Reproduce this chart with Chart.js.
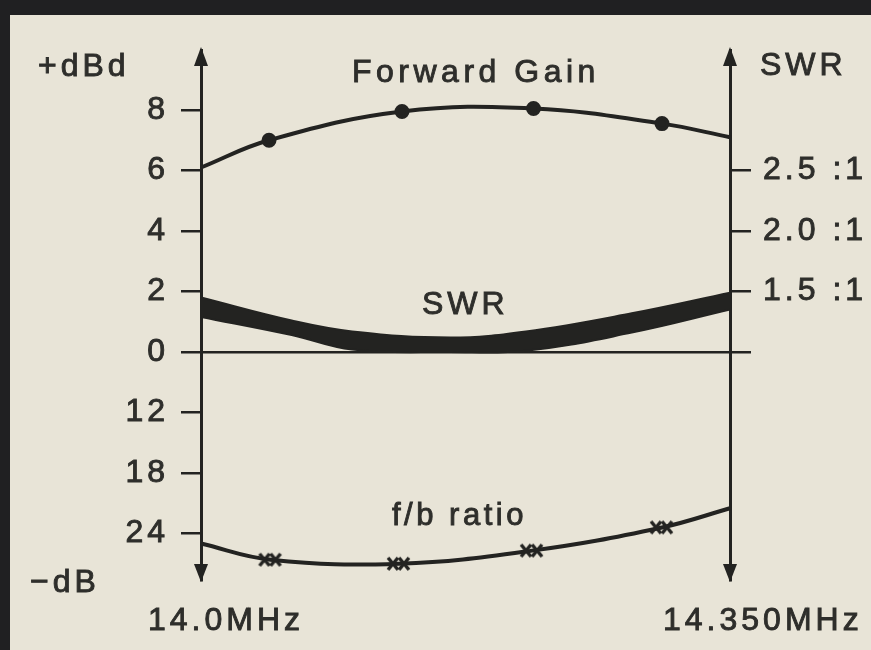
<!DOCTYPE html>
<html>
<head>
<meta charset="utf-8">
<script src="https://cdn.jsdelivr.net/npm/chart.js"></script>
<style>
  body { margin: 0; background: #e8e4d7; }
  canvas { display: block; }
</style>
</head>
<body>
<canvas id="myChart" width="871" height="650"></canvas>
<script>
// frequency (MHz) and readings taken off the original plot
const gainFreq = [14.0, 14.045, 14.133, 14.22, 14.305, 14.35];
const gainDb = [6.1, 7.0, 7.95, 8.05, 7.55, 7.1];

const fbFreq = [14.0, 14.046, 14.131, 14.219, 14.305, 14.35];
const fbDb = [25.0, 26.6, 27.0, 25.7, 23.4, 21.5];

const swrFreq = [14.0, 14.06, 14.1, 14.165, 14.215, 14.285, 14.35];
const swrHigh = [1.45, 1.26, 1.17, 1.12, 1.17, 1.32, 1.49];
const swrLow = [1.29, 1.14, 1.02, 1.0, 1.01, 1.16, 1.35];

// left axis: +dBd going up, f/b dB going down (uneven steps)
const gainTicks = [8, 6, 4, 2, 0];
const fbTicks = [12, 18, 24];
const swrTicks = [1.0, 1.5, 2.0, 2.5];
const swrTickLabels = ["", "1.5 :1", "2.0 :1", "2.5 :1"];

const INK = "#232321";
const TEXT = "#2e2e2b";
const PAPER = "#e8e4d7";
const FONT = "'Liberation Sans', Arial, sans-serif";

// f/b dB -> position on the gain axis (0, 12, 18, 24 are evenly spaced)
function fbToAxis(db) {
  const pts = [0].concat(fbTicks);
  for (let i = 1; i < pts.length; i++) {
    if (db <= pts[i]) {
      const a = pts[i - 1], b = pts[i];
      return -2 * (i - 1) - 2 * (db - a) / (b - a);
    }
  }
  const a = pts[pts.length - 2], b = pts[pts.length - 1];
  return -2 * (pts.length - 1) - 2 * (db - b) / (b - a);
}

const leftTickValues = gainTicks.concat(fbTicks.map(fbToAxis));
const leftTickLabels = gainTicks.map(String).concat(fbTicks.map(String));

// double cross marker used on the f/b curve
const crossMark = document.createElement("canvas");
crossMark.width = 28;
crossMark.height = 20;
(function () {
  const c = crossMark.getContext("2d");
  c.strokeStyle = INK;
  c.lineWidth = 3.5;
  [8, 19].forEach((cx) => {
    c.beginPath();
    c.moveTo(cx - 5, 4); c.lineTo(cx + 5, 16);
    c.moveTo(cx + 5, 4); c.lineTo(cx - 5, 16);
    c.stroke();
  });
})();

const paperPlugin = {
  id: "paper",
  beforeDraw: (chart) => {
    const { ctx, width, height } = chart;
    ctx.save();
    ctx.fillStyle = PAPER;
    ctx.fillRect(0, 0, width, height);
    ctx.fillStyle = "#202022";
    ctx.fillRect(0, 0, width, 15);
    ctx.fillRect(0, 0, 10, height);
    ctx.restore();
    ctx.letterSpacing = "4px";
  },
  afterDraw: (chart) => {
    const { ctx, chartArea } = chart;
    const { left, right, top, bottom } = chartArea;
    ctx.save();
    ctx.fillStyle = INK;
    [left, right].forEach((x) => {
      ctx.beginPath();
      ctx.moveTo(x, top - 3);
      ctx.lineTo(x - 7, top + 16);
      ctx.lineTo(x + 7, top + 16);
      ctx.closePath();
      ctx.fill();
      ctx.beginPath();
      ctx.moveTo(x, bottom + 2);
      ctx.lineTo(x - 7, bottom - 16);
      ctx.lineTo(x + 7, bottom - 16);
      ctx.closePath();
      ctx.fill();
    });

    const label = (s, x, y) => {
      ctx.fillText(s, x, y);
      ctx.strokeText(s, x, y);
    };
    ctx.fillStyle = TEXT;
    ctx.strokeStyle = TEXT;
    ctx.lineWidth = 0.9;
    ctx.textBaseline = "alphabetic";
    ctx.textAlign = "left";
    ctx.font = "32px " + FONT;
    ctx.letterSpacing = "4px";
    label("+dBd", 38, 76);
    label("SWR", 760, 75);
    label("SWR", 422, 314);
    label("\u2212dB", 30, 592);
    label("14.0MHz", 148, 630);
    label("14.350MHz", 663, 630);
    ctx.letterSpacing = "4.5px";
    label("Forward Gain", 352, 82);
    ctx.font = "31px " + FONT;
    ctx.letterSpacing = "3.5px";
    label("f/b ratio", 392, 525);
    ctx.restore();
  },
};

const pts = (xs, ys, f) => xs.map((x, i) => ({ x: x, y: f ? f(ys[i]) : ys[i] }));

const ctx = document.getElementById("myChart").getContext("2d");

const myChart = new Chart(ctx, {
  type: "line",
  data: {
    datasets: [
      {
        label: "Forward Gain",
        data: pts(gainFreq, gainDb),
        yAxisID: "y",
        borderColor: INK,
        backgroundColor: INK,
        borderWidth: 4,
        tension: 0.4,
        pointRadius: gainFreq.map((_, i) => (i === 0 || i === gainFreq.length - 1 ? 0 : 5.5)),
        pointStyle: "circle",
        clip: false,
      },
      {
        label: "f/b ratio",
        data: pts(fbFreq, fbDb, fbToAxis),
        yAxisID: "y",
        borderColor: INK,
        borderWidth: 4,
        tension: 0.4,
        pointStyle: fbFreq.map((_, i) => (i === 0 || i === fbFreq.length - 1 ? false : crossMark)),
        pointRadius: 9,
        clip: false,
      },
      {
        label: "SWR high",
        data: pts(swrFreq, swrHigh),
        yAxisID: "swr",
        borderColor: INK,
        borderWidth: 2,
        tension: 0.4,
        pointRadius: 0,
        fill: false,
        clip: false,
      },
      {
        label: "SWR low",
        data: pts(swrFreq, swrLow),
        yAxisID: "swr",
        borderColor: INK,
        backgroundColor: INK,
        borderWidth: 2,
        tension: 0.4,
        pointRadius: 0,
        fill: "-1",
        clip: false,
      },
    ],
  },
  options: {
    responsive: false,
    animation: false,
    layout: { padding: { top: 50, bottom: 70, left: 0, right: 0 } },
    plugins: {
      legend: { display: false },
      tooltip: { enabled: false },
    },
    scales: {
      x: {
        type: "linear",
        min: 14.0,
        max: 14.35,
        display: false,
      },
      y: {
        type: "linear",
        position: "left",
        min: -7.538,
        max: 9.984,
        afterBuildTicks: (scale) => {
          scale.ticks = leftTickValues.map((v) => ({ value: v }));
        },
        afterFit: (scale) => {
          scale.width = 201;
        },
        ticks: {
          color: TEXT,
          textStrokeColor: TEXT,
          textStrokeWidth: 0.9,
          font: { family: FONT, size: 32 },
          padding: 12,
          callback: (value) => {
            const i = leftTickValues.findIndex((v) => Math.abs(v - value) < 1e-6);
            return i >= 0 ? leftTickLabels[i] : "";
          },
        },
        grid: {
          drawOnChartArea: true,
          color: (c) => (c.tick && c.tick.value === 0 ? INK : "rgba(0,0,0,0)"),
          tickColor: INK,
          tickLength: 20,
          lineWidth: 2.5,
        },
        border: { display: true, color: INK, width: 3 },
      },
      swr: {
        type: "linear",
        position: "right",
        min: 1 - 7.538 / 4,
        max: 1 + 9.984 / 4,
        afterBuildTicks: (scale) => {
          scale.ticks = swrTicks.map((v) => ({ value: v }));
        },
        afterFit: (scale) => {
          scale.width = 141;
        },
        ticks: {
          color: TEXT,
          textStrokeColor: TEXT,
          textStrokeWidth: 0.9,
          font: { family: FONT, size: 32 },
          padding: 12,
          callback: (value) => {
            const i = swrTicks.findIndex((v) => Math.abs(v - value) < 1e-6);
            return i >= 0 ? swrTickLabels[i] : "";
          },
        },
        grid: {
          drawOnChartArea: false,
          color: INK,
          tickLength: 21,
          lineWidth: 2.5,
        },
        border: { display: true, color: INK, width: 3 },
      },
    },
  },
  plugins: [paperPlugin],
});
</script>
</body>
</html>
